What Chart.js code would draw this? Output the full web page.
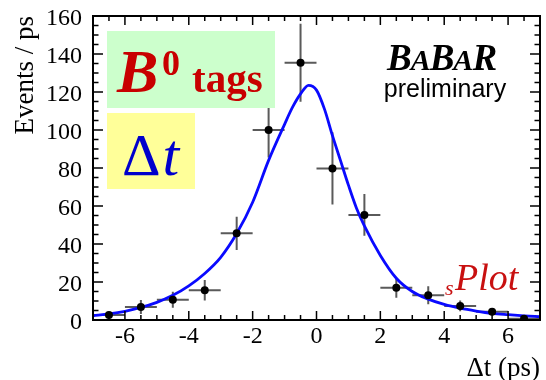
<!DOCTYPE html>
<html>
<head>
<meta charset="utf-8">
<script src="https://cdn.jsdelivr.net/npm/chart.js@4"></script>
<style>
  html, body { margin: 0; padding: 0; background: #fff; }
  #wrap { width: 546px; height: 380px; }
</style>
</head>
<body>
<div id="wrap"><canvas id="chart"></canvas></div>
<script>
// sPlot of B0-tagged events vs Δt, 1 ps bins
const binCenters = [-6.5, -5.5, -4.5, -3.5, -2.5, -1.5, -0.5, 0.5, 1.5, 2.5, 3.5, 4.5, 5.5, 6.5];
const binHalfWidth = 0.5;
const eventsPerPs = [2.6, 6.8, 10.7, 15.6, 45.6, 100, 135.4, 79.8, 55.3, 17, 13, 7.4, 4.4, 0.7];
const eventsErr = [1.5, 3.7, 4.2, 5.4, 8.8, 14.5, 20.5, 19, 11, 5.3, 4.7, 2.8, 1.8, 1];

// fitted Δt PDF
const fitT = [-7, -6.5, -6, -5.5, -5, -4.5, -4, -3.5, -3, -2.5, -2, -1.5, -1, -0.75, -0.5, -0.25,
  0, 0.25, 0.5, 0.75, 1, 1.25, 1.5, 2, 2.5, 3, 3.5, 4, 4.5, 5, 5.5, 6, 6.5, 7];
const fitY = [2.2, 3.2, 4.6, 6.6, 9.3, 13, 18, 24.5, 33, 45.5, 62, 84, 103, 112, 119, 123.5,
  121, 111, 97, 84, 71, 59, 49.5, 34, 22, 15, 11, 8.2, 6.2, 4.7, 3.5, 2.8, 2.2, 1.7];

const xTicks = [-6, -4, -2, 0, 2, 4, 6];

const serif = '"Liberation Serif", "Times New Roman", serif';
const sans = '"Liberation Sans", Arial, sans-serif';

// black box round the pad with inward ticks on all four sides
const frame = {
  id: "frame",
  afterDatasetsDraw(chart) {
    const { ctx, chartArea: a, scales } = chart;
    const xs = scales.x, ys = scales.y;
    ctx.save();
    ctx.strokeStyle = "#000";
    ctx.lineWidth = 1.5;
    ctx.beginPath();
    for (let v = -7; v <= 7; v += 0.5) {
      const len = xTicks.includes(v) ? 9 : 5;
      const px = xs.getPixelForValue(v);
      ctx.moveTo(px, a.bottom);
      ctx.lineTo(px, a.bottom - len);
      ctx.moveTo(px, a.top);
      ctx.lineTo(px, a.top + len);
    }
    for (let v = 0; v <= 160; v += 5) {
      const len = v % 20 === 0 ? 10 : 5.5;
      const py = ys.getPixelForValue(v);
      ctx.moveTo(a.left, py);
      ctx.lineTo(a.left + len, py);
      ctx.moveTo(a.right, py);
      ctx.lineTo(a.right - len, py);
    }
    ctx.stroke();
    ctx.lineWidth = 2;
    ctx.strokeRect(a.left, a.top, a.right - a.left, a.bottom - a.top);
    ctx.restore();
  },
};

// bin-width and statistical error bars under the markers
const errorBars = {
  id: "errorBars",
  beforeDatasetsDraw(chart) {
    const { ctx, chartArea: a, scales } = chart;
    const xs = scales.x, ys = scales.y;
    ctx.save();
    ctx.beginPath();
    ctx.rect(a.left, a.top, a.right - a.left, a.bottom - a.top);
    ctx.clip();
    ctx.strokeStyle = "#5a5a5a";
    ctx.lineWidth = 2;
    ctx.beginPath();
    binCenters.forEach((t, i) => {
      const px = xs.getPixelForValue(t);
      const py = ys.getPixelForValue(eventsPerPs[i]);
      ctx.moveTo(px, ys.getPixelForValue(eventsPerPs[i] - eventsErr[i]));
      ctx.lineTo(px, ys.getPixelForValue(eventsPerPs[i] + eventsErr[i]));
      ctx.moveTo(xs.getPixelForValue(t - binHalfWidth), py);
      ctx.lineTo(xs.getPixelForValue(t + binHalfWidth), py);
    });
    ctx.stroke();
    ctx.restore();
  },
};

// pave boxes and captions
const captions = {
  id: "captions",
  afterDraw(chart) {
    const ctx = chart.ctx;
    ctx.save();
    ctx.textAlign = "left";
    ctx.textBaseline = "alphabetic";

    ctx.fillStyle = "#ccffcc";
    ctx.fillRect(107, 31, 168, 77);
    ctx.fillStyle = "#ffff99";
    ctx.fillRect(107, 113, 88, 76);

    ctx.fillStyle = "#c80000";
    ctx.font = "italic bold 62px " + serif;
    ctx.fillText("B", 117, 92);
    ctx.font = "bold 36px " + serif;
    ctx.fillText("0", 162, 75);
    ctx.font = "bold 41px " + serif;
    ctx.fillText("tags", 192, 92);

    ctx.fillStyle = "#0000cc";
    ctx.font = "60px " + serif;
    ctx.fillText("Δ", 122, 175);
    const dw = ctx.measureText("Δ").width;
    ctx.font = "italic 60px " + serif;
    ctx.fillText("t", 122 + dw + 2, 175);

    // BABAR logo: full-size B and R, smaller A
    ctx.fillStyle = "#000";
    let x = 387;
    [["B", 37], ["A", 30], ["B", 37], ["A", 30], ["R", 37]].forEach(([ch, size]) => {
      ctx.font = "italic bold " + size + "px " + serif;
      ctx.fillText(ch, x, 70);
      x += ctx.measureText(ch).width - 1;
    });
    ctx.font = "25px " + sans;
    ctx.textAlign = "center";
    ctx.fillText("preliminary", 445, 96.5);

    ctx.textAlign = "left";
    ctx.fillStyle = "#c81010";
    ctx.font = "italic 22px " + serif;
    ctx.fillText("s", 445, 295);
    ctx.font = "italic 38px " + serif;
    ctx.fillText("Plot", 455, 290);
    ctx.restore();
  },
};

const ctx = document.getElementById("chart").getContext("2d");
const chart = new Chart(ctx, {
  type: "line",
  data: {
    datasets: [
      {
        label: "fit",
        data: fitT.map((t, i) => ({ x: t, y: fitY[i] })),
        borderColor: "#0a0aff",
        borderWidth: 2.8,
        pointRadius: 0,
        fill: false,
        cubicInterpolationMode: "monotone",
        order: 1,
      },
      {
        label: "data",
        data: binCenters.map((t, i) => ({ x: t, y: eventsPerPs[i] })),
        showLine: false,
        pointRadius: 4,
        pointBackgroundColor: "#000",
        pointBorderWidth: 0,
        order: 0,
      },
    ],
  },
  options: {
    responsive: true,
    maintainAspectRatio: false,
    animation: false,
    layout: { padding: { top: 16, right: 6, left: 0, bottom: 0 } },
    plugins: {
      legend: { display: false },
      tooltip: { enabled: false },
    },
    scales: {
      x: {
        type: "linear",
        min: -7,
        max: 7,
        grid: { display: false },
        border: { display: false },
        afterBuildTicks(scale) {
          scale.ticks = xTicks.map((v) => ({ value: v }));
        },
        ticks: {
          padding: -3,
          color: "#000",
          font: { family: serif, size: 24, lineHeight: 1 },
        },
        title: {
          display: true,
          text: "Δt (ps)",
          align: "end",
          color: "#000",
          font: { family: serif, size: 27, lineHeight: 1 },
          padding: { top: 0, bottom: -2 },
        },
        afterFit(scale) {
          scale.height = 60;
        },
      },
      y: {
        type: "linear",
        min: 0,
        max: 160,
        grid: { display: false },
        border: { display: false },
        ticks: {
          stepSize: 20,
          padding: 3,
          labelOffset: 3,
          color: "#000",
          font: { family: serif, size: 24, lineHeight: 1 },
        },
        title: {
          display: true,
          text: "Events / ps",
          align: "end",
          color: "#000",
          font: { family: serif, size: 27, lineHeight: 1 },
          padding: { top: 12, bottom: 0 },
        },
        afterFit(scale) {
          scale.width = 93;
        },
      },
    },
  },
  plugins: [errorBars, frame, captions],
});
</script>
</body>
</html>
